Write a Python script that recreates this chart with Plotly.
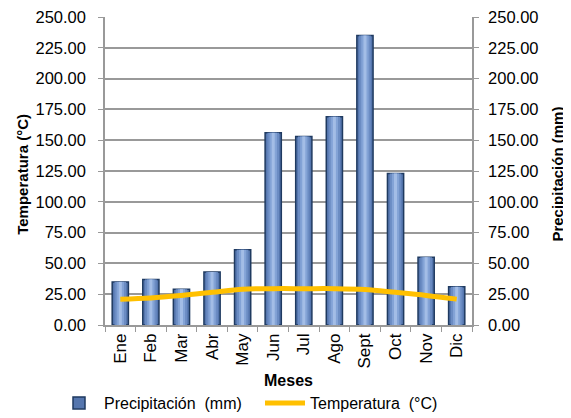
import plotly.graph_objects as go

meses = ["Ene", "Feb", "Mar", "Abr", "May", "Jun", "Jul", "Ago", "Sept", "Oct", "Nov", "Dic"]
precipitacion = [35, 37, 29, 43, 61, 156, 153, 169, 235, 123, 55, 31]
temperatura = [21, 22, 24, 26.5, 29, 29.5, 29.5, 29.5, 28.8, 26.5, 24, 21]
ticks_y = [0, 25, 50, 75, 100, 125, 150, 175, 200, 225, 250]

font = "Liberation Sans, Arial, sans-serif"

fig = go.Figure()
fig.add_trace(go.Bar(
    x=meses, y=precipitacion, name="Precipitación  (mm)", yaxis="y", legend="legend",
    width=0.53,
    marker=dict(color="#5576ae", line=dict(color="#1f3a60", width=1.5)),
))
# inner highlight layers (gradient effect)
for w, c in [(0.38, "#6b8cc3"), (0.24, "#83a3d6"), (0.1, "#a3bde6")]:
    fig.add_trace(go.Bar(
        x=meses, y=precipitacion, yaxis="y", width=w, showlegend=False,
        marker=dict(color=c, line=dict(width=0)), hoverinfo="skip",
    ))
fig.add_trace(go.Scatter(
    x=meses, y=temperatura, name="Temperatura  (°C)", yaxis="y2", legend="legend2",
    mode="lines", line=dict(color="#FFC000", width=5, shape="spline", smoothing=1.0),
))

axis_common = dict(
    range=[0, 250], tickvals=ticks_y, ticktext=[f"{v:.2f}" for v in ticks_y],
    showline=True, linecolor="#999999", linewidth=1.5,
    ticks="outside", ticklen=5, tickcolor="#999999",
    tickfont=dict(size=16.5, color="#000000", family=font),
    zeroline=False, ticklabeloverflow="allow",
)

T, PH = 9, 308

fig.update_layout(
    width=571, height=418,
    margin=dict(l=97, r=107, t=T, b=418 - T - PH, autoexpand=False),
    paper_bgcolor="white", plot_bgcolor="white",
    barmode="overlay",
    font=dict(family=font, color="#000000"),
    xaxis=dict(
        tickangle=-90, tickfont=dict(size=17, family=font),
        showline=True, linecolor="#999999", linewidth=1.5,
        ticks="outside", tickson="boundaries", ticklen=5, tickcolor="#999999",
    ),
    yaxis=dict(**axis_common, showgrid=True, gridcolor="#999999", gridwidth=1.5,
               ticklabelstandoff=9),
    yaxis2=dict(**axis_common, overlaying="y", side="right", showgrid=False,
                ticklabelstandoff=6),
    legend=dict(orientation="h", xref="container", yref="container",
                x=46 / 571, xanchor="left", y=(418 - 395) / 418, yanchor="middle",
                font=dict(size=16), itemwidth=40),
    legend2=dict(orientation="h", xref="container", yref="container",
                 x=252 / 571, xanchor="left", y=(418 - 395) / 418, yanchor="middle",
                 font=dict(size=16), itemwidth=40),
    annotations=[
        dict(text="<b>Meses</b>", x=0.5, y=-(372 - (T + PH)) / PH, xref="paper", yref="paper",
             showarrow=False, font=dict(size=16), xanchor="center", yanchor="middle"),
        dict(text="<b>Temperatura (°C)</b>", x=-0.227, y=0.49, xref="paper", yref="paper",
             showarrow=False, font=dict(size=15), textangle=-90,
             xanchor="center", yanchor="middle"),
        dict(text="<b>Precipitación (mm)</b>", x=1.233, y=0.49, xref="paper", yref="paper",
             showarrow=False, font=dict(size=15), textangle=-90,
             xanchor="center", yanchor="middle"),
    ],
)

fig.write_html("out.html")
